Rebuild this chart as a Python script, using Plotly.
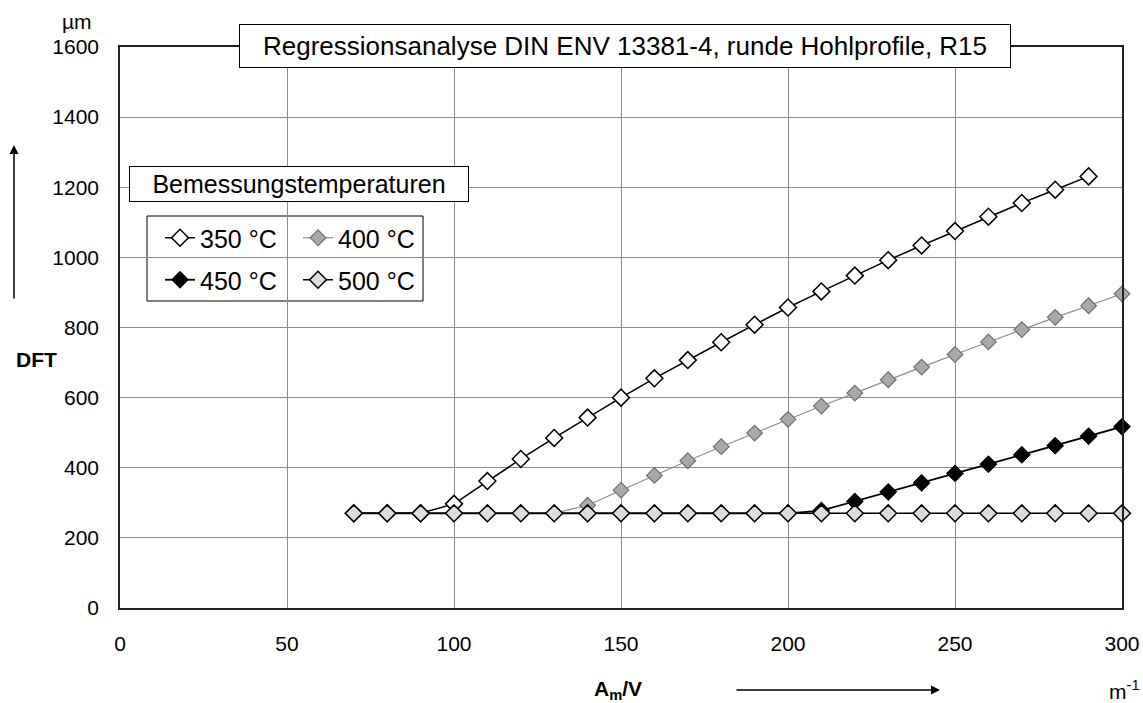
import plotly.graph_objects as go

# ---- data ----
x_vals = [70, 80, 90, 100, 110, 120, 130, 140, 150, 160, 170, 180, 190, 200,
          210, 220, 230, 240, 250, 260, 270, 280, 290, 300]
x_350 = x_vals[:-1]
y_350 = [270, 270, 270, 297, 362, 425, 485, 543, 600, 655, 707, 758, 808, 857,
         903, 948, 992, 1034, 1075, 1116, 1155, 1193, 1231]
y_400 = [270, 270, 270, 270, 270, 270, 270, 293, 336, 378, 420, 460, 499, 538,
         576, 613, 651, 687, 723, 759, 794, 829, 862, 896]
y_450 = [270, 270, 270, 270, 270, 270, 270, 270, 270, 270, 270, 270, 270, 270,
         278, 304, 331, 357, 384, 410, 437, 463, 490, 517]
y_500 = [270] * 24
series_names = ["350 °C", "400 °C", "450 °C", "500 °C"]
x_ticks = [0, 50, 100, 150, 200, 250, 300]
y_ticks = [0, 200, 400, 600, 800, 1000, 1200, 1400, 1600]

FONT = "Liberation Sans, Arial, sans-serif"
W, H = 1143, 703
ML, MR, MT, MB = 120, 21, 47, 95
PW, PH = W - ML - MR, H - MT - MB


def px(xp):
    return (xp - ML) / PW


def py(yp):
    return (H - MB - yp) / PH


fig = go.Figure()
fig.add_trace(go.Scatter(
    x=x_350, y=y_350, name=series_names[0], mode="lines+markers",
    line=dict(color="black", width=1.5),
    marker=dict(symbol="diamond", size=13, color="white", line=dict(color="black", width=1.5)),
    legend="legend", cliponaxis=False))
fig.add_trace(go.Scatter(
    x=x_vals, y=y_400, name=series_names[1], mode="lines+markers",
    line=dict(color="#8f8f8f", width=1.2),
    marker=dict(symbol="diamond", size=12, color="#a8a8a8", line=dict(color="#707070", width=1.2)),
    legend="legend2", cliponaxis=False))
fig.add_trace(go.Scatter(
    x=x_vals, y=y_450, name=series_names[2], mode="lines+markers",
    line=dict(color="black", width=1.8),
    marker=dict(symbol="diamond", size=13, color="black", line=dict(color="black", width=1)),
    legend="legend3", cliponaxis=False))
fig.add_trace(go.Scatter(
    x=x_vals, y=y_500, name=series_names[3], mode="lines+markers",
    line=dict(color="black", width=1.5),
    marker=dict(symbol="diamond", size=13, color="#dcdcdc", line=dict(color="black", width=1.5)),
    legend="legend4", cliponaxis=False))

leg_common = dict(bgcolor="rgba(0,0,0,0)", borderwidth=0, xanchor="left", yanchor="middle",
                  font=dict(family=FONT, size=25, color="black"), itemwidth=30)
x_col1, x_col2 = px(160), px(298)
y_row1, y_row2 = py(238), py(280)

fig.update_layout(
    width=W, height=H,
    margin=dict(l=ML, r=MR, t=MT, b=MB, autoexpand=False),
    paper_bgcolor="white", plot_bgcolor="white",
    font=dict(family=FONT, size=21, color="black"),
    legend=dict(x=x_col1, y=y_row1, **leg_common),
    legend2=dict(x=x_col2, y=y_row1, **leg_common),
    legend3=dict(x=x_col1, y=y_row2, **leg_common),
    legend4=dict(x=x_col2, y=y_row2, **leg_common),
    xaxis=dict(range=[0, 300], tickvals=x_ticks, ticktext=[str(v) for v in x_ticks],
               showgrid=True, gridcolor="#8c8c8c", gridwidth=1,
               showline=True, linecolor="#222", linewidth=1.5, mirror=True,
               zeroline=False, ticks="", ticklabelstandoff=16, automargin=False,
               tickfont=dict(family=FONT, size=21, color="black")),
    yaxis=dict(range=[0, 1600], tickvals=y_ticks, ticktext=[str(v) for v in y_ticks],
               showgrid=True, gridcolor="#8c8c8c", gridwidth=1,
               showline=True, linecolor="#222", linewidth=1.5, mirror=True,
               zeroline=False, ticks="", ticklabelstandoff=15, automargin=False,
               tickfont=dict(family=FONT, size=21, color="black")),
    showlegend=True,
)

# legend frame
fig.add_shape(type="rect", xref="paper", yref="paper",
              x0=px(147), x1=px(423), y0=py(301), y1=py(216),
              line=dict(color="black", width=1), fillcolor="white", layer="between")

annotations = [
    # chart title box
    dict(text="Regressionsanalyse DIN ENV 13381-4, runde Hohlprofile, R15",
         x=px(625), y=py(46), xref="paper", yref="paper", showarrow=False,
         xanchor="center", yanchor="middle", font=dict(family=FONT, size=26, color="black"),
         bgcolor="white", bordercolor="black", borderwidth=1, borderpad=6, width=758),
    # legend title box
    dict(text="Bemessungstemperaturen",
         x=px(299), y=py(184), xref="paper", yref="paper", showarrow=False,
         xanchor="center", yanchor="middle", font=dict(family=FONT, size=25, color="black"),
         bgcolor="white", bordercolor="black", borderwidth=1, borderpad=3, width=332),
    # y unit
    dict(text="µm", x=px(77), y=py(22), xref="paper", yref="paper", showarrow=False,
         xanchor="center", yanchor="middle", font=dict(family=FONT, size=21, color="black")),
    # y label
    dict(text="<b>DFT</b>", x=px(36), y=py(359), xref="paper", yref="paper", showarrow=False,
         xanchor="center", yanchor="middle", font=dict(family=FONT, size=21, color="black")),
    # y arrow
    dict(text="", x=px(14), y=py(145), xref="paper", yref="paper", showarrow=True,
         ax=0, ay=155, arrowhead=2, arrowsize=1.2, arrowwidth=1.5, arrowcolor="black"),
    # x label
    dict(text="<b>A<sub>m</sub>/V</b>", x=px(618), y=py(690), xref="paper", yref="paper",
         showarrow=False, xanchor="center", yanchor="middle",
         font=dict(family=FONT, size=21, color="black")),
    # x arrow
    dict(text="", x=px(940), y=py(690), xref="paper", yref="paper", showarrow=True,
         ax=-205, ay=0, arrowhead=2, arrowsize=1.2, arrowwidth=1.5, arrowcolor="black"),
    # x unit
    dict(text="m<sup>-1</sup>", x=px(1124), y=py(690), xref="paper", yref="paper",
         showarrow=False, xanchor="center", yanchor="middle",
         font=dict(family=FONT, size=21, color="black")),
]
fig.update_layout(annotations=annotations)

fig.write_html("out.html")
